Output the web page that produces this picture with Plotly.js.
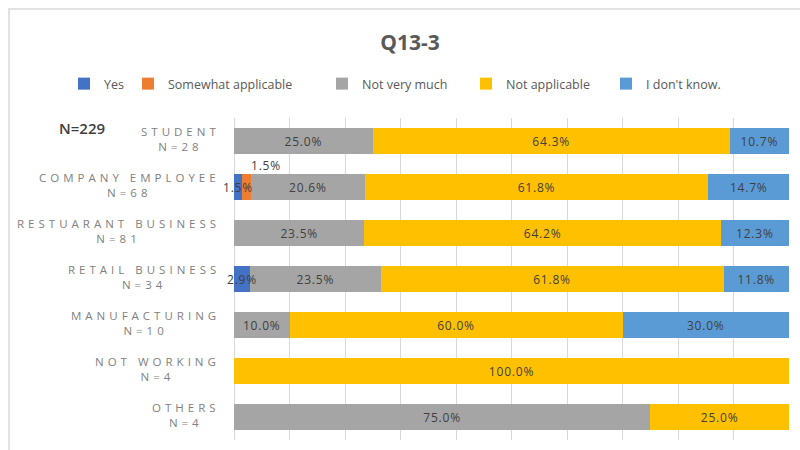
<!DOCTYPE html>
<html>
<head>
<meta charset="utf-8">
<script src="https://cdn.plot.ly/plotly-3.0.1.min.js"></script>
<style>
  html, body { margin: 0; padding: 0; background: #fff; }
  #wrap { position: relative; width: 800px; height: 450px; }
  #chart { width: 800px; height: 450px; }
  #frame { position: absolute; left: 8px; top: 8px; width: 800px; height: 460px;
           border-left: 2px solid #e3e3e3; border-top: 2px solid #e3e3e3; pointer-events: none; }
</style>
</head>
<body>
<div id="wrap">
  <div id="chart"></div>
  <div id="frame"></div>
</div>
<script>
// ---- data ----
const categories = ['STUDENT', 'COMPANY EMPLOYEE', 'RESTUARANT BUSINESS', 'RETAIL BUSINESS', 'MANUFACTURING', 'NOT WORKING', 'OTHERS'];
const counts = [28, 68, 81, 34, 10, 4, 4];
const seriesNames = ['Yes', 'Somewhat applicable', 'Not very much', 'Not applicable', "I don't know."];
const yesVals       = [0, 1.5, 0, 2.9, 0, 0, 0];
const somewhatVals  = [0, 1.5, 0, 0, 0, 0, 0];
const notVeryVals   = [25.0, 20.6, 23.5, 23.5, 10.0, 0, 75.0];
const notApplVals   = [64.3, 61.8, 64.2, 61.8, 60.0, 100.0, 25.0];
const dontKnowVals  = [10.7, 14.7, 12.3, 11.8, 30.0, 0, 0];
const totalN = 229;

const seriesVals = [yesVals, somewhatVals, notVeryVals, notApplVals, dontKnowVals];
const colors = ['#4472C4', '#ED7D31', '#A5A5A5', '#FFC000', '#5B9BD5'];
const smallShift = [{x: 0, y: 0}, {x: 20, y: 22}, {x: 0, y: 0}, {x: 0, y: 0}, {x: 0, y: 0}];
// legend entry positions (marker centre, px from left) – styling
const legendMarkerX = [88, 152, 346, 490, 630];
const legendIds = ['legend', 'legend2', 'legend3', 'legend4', 'legend5'];

const labelFont = {family: '"Open Sans", "DejaVu Sans", sans-serif', size: 12, color: '#404040'};
const sp = t => '<span style="letter-spacing:0.8px">' + t + '</span>';

const traces = seriesVals.map((vals, i) => ({
  type: 'bar',
  orientation: 'h',
  name: seriesNames[i],
  legend: legendIds[i],
  y: categories,
  x: vals,
  marker: {color: colors[i]},
  text: vals.map(v => v >= 5 ? sp(v.toFixed(1) + '%') : ''),
  textposition: 'inside',
  insidetextanchor: 'middle',
  constraintext: 'none',
  textfont: labelFont,
  hoverinfo: 'skip'
}));

const annotations = [];
// small-value labels (centered on their segment, may overflow)
const base = categories.map(() => 0);
seriesVals.forEach((vals, i) => {
  vals.forEach((v, j) => {
    if (v > 0 && v < 5) {
      annotations.push({
        x: base[j] + v / 2, y: categories[j], xref: 'x', yref: 'y',
        text: sp(v.toFixed(1) + '%'), showarrow: false,
        xshift: smallShift[i].x, yshift: smallShift[i].y,
        font: labelFont
      });
    }
    base[j] += v;
  });
});
// category labels (two lines, centered, letter-spaced)
categories.forEach((c, j) => {
  annotations.push({
    x: 0, y: c, xref: 'paper', yref: 'y', xanchor: 'right', yanchor: 'middle',
    xshift: -12, yshift: 2, align: 'center', showarrow: false,
    text: '<span style="letter-spacing:4px">' + c + '</span><br><span style="letter-spacing:4px">N=' + counts[j] + '</span>',
    font: {family: '"Open Sans", "DejaVu Sans", sans-serif', size: 11.5, color: '#7f7f7f'}
  });
});

const L = 234, R = 11, T = 118, B = 10, W = 800, H = 450;
const pw = W - L - R, ph = H - T - B;
annotations.push({
  x: (82 - L) / pw, y: (H - B - 128) / ph, xref: 'paper', yref: 'paper',
  xanchor: 'center', yanchor: 'middle', showarrow: false,
  text: 'N=' + totalN,
  font: {family: '"Open Sans", sans-serif', size: 15, color: '#404040', weight: 600}
});

const layout = {
  width: W, height: H,
  margin: {l: L, r: R, t: T, b: B},
  paper_bgcolor: '#ffffff',
  plot_bgcolor: '#ffffff',
  barmode: 'stack',
  bargap: 0.43,
  title: {
    text: '<b>Q13-3</b>',
    x: 410 / W, xanchor: 'center', xref: 'container',
    y: 1 - 43 / H, yanchor: 'middle', yref: 'container',
    font: {family: '"Open Sans", "DejaVu Sans", sans-serif', size: 21, color: '#595959'}
  },
  showlegend: true,
  xaxis: {
    range: [0, 100],
    dtick: 10,
    showgrid: true,
    gridcolor: '#d9d9d9',
    gridwidth: 1,
    zeroline: true,
    zerolinecolor: '#d9d9d9',
    showticklabels: false,
    ticks: '',
    showline: false,
    fixedrange: true
  },
  yaxis: {
    type: 'category',
    autorange: 'reversed',
    showticklabels: false,
    ticks: '',
    showgrid: false,
    showline: false,
    fixedrange: true
  },
  annotations: annotations
};
legendIds.forEach((id, i) => {
  layout[id] = {
    orientation: 'h',
    xref: 'container', yref: 'container',
    x: (legendMarkerX[i] - 24) / W, xanchor: 'left',
    y: 1 - 84 / H, yanchor: 'middle',
    font: {family: '"Open Sans", sans-serif', size: 12.5, color: '#595959'},
    itemwidth: 30,
    bgcolor: 'rgba(0,0,0,0)'
  };
});

Plotly.newPlot('chart', traces, layout, {displayModeBar: false, staticPlot: true});
</script>
</body>
</html>
